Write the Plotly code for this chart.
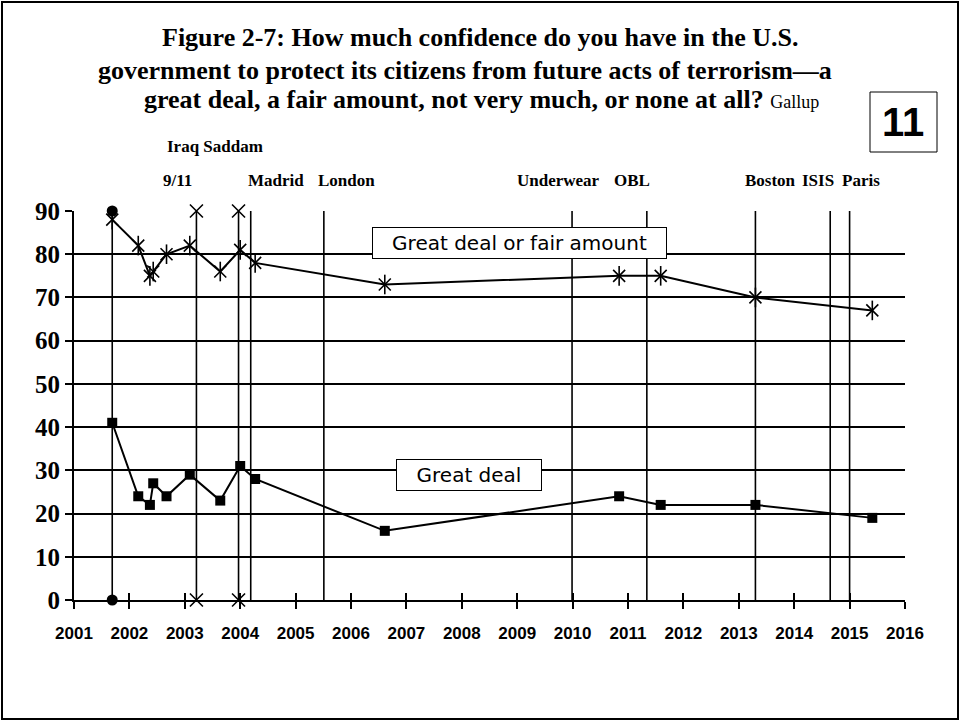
import plotly.graph_objects as go

# Survey dates (decimal years) and percentages
dates = [2001.69, 2002.16, 2002.37, 2002.43, 2002.67, 2003.09, 2003.64,
         2004.00, 2004.27, 2006.61, 2010.84, 2011.59, 2013.30, 2015.41]
great_or_fair = [88, 82, 75, 76, 80, 82, 76, 81, 78, 73, 75, 75, 70, 67]
great_deal = [41, 24, 22, 27, 24, 29, 23, 31, 28, 16, 24, 22, 22, 19]

# Event reference lines
event_names = ["9/11", "Iraq", "Saddam", "Madrid", "London", "Underwear",
               "OBL", "Boston", "ISIS", "Paris"]
event_dates = [2001.69, 2003.21, 2003.97, 2004.19, 2005.51, 2009.99,
               2011.34, 2013.30, 2014.65, 2015.00]
event_markers = ["circle", "x-thin-open", "x-thin-open", None, None, None,
                 None, None, None, None]

years = list(range(2001, 2017))
y_ticks = list(range(0, 100, 10))

# plot-area pixel box
W, H = 960, 721
L, R, T, B = 74, 905, 211, 600


def px(x):
    return (x - L) / (R - L)


def py(y):
    return (B - y) / (B - T)


fig = go.Figure()

for name, d, m in zip(event_names, event_dates, event_markers):
    tr = dict(x=[d, d], y=[0, 90], mode="lines", name=name,
              line=dict(color="black", width=1.6), hoverinfo="skip",
              showlegend=False, cliponaxis=False)
    if m is not None:
        tr["mode"] = "lines+markers"
        if m == "circle":
            tr["marker"] = dict(symbol="circle", size=11, color="black")
        else:
            tr["marker"] = dict(symbol=m, size=13, color="black",
                                line=dict(color="black", width=1.6))
    fig.add_trace(go.Scatter(**tr))

# Great deal or fair amount: star marker built from an X plus a vertical bar
fig.add_trace(go.Scatter(
    x=dates, y=great_or_fair, mode="lines+markers", name="Great deal or fair amount",
    line=dict(color="black", width=2),
    marker=dict(symbol="x-thin-open", size=12, color="black",
                line=dict(color="black", width=1.6)),
    showlegend=False, cliponaxis=False))
fig.add_trace(go.Scatter(
    x=dates, y=great_or_fair, mode="markers", name="Great deal or fair amount",
    marker=dict(symbol="line-ns-open", size=14, color="black",
                line=dict(color="black", width=1.6)),
    showlegend=False, cliponaxis=False))

fig.add_trace(go.Scatter(
    x=dates, y=great_deal, mode="lines+markers", name="Great deal",
    line=dict(color="black", width=2),
    marker=dict(symbol="square", size=10, color="black"),
    showlegend=False, cliponaxis=False))

# invisible companion trace so the inner-tick axis is drawn
fig.add_trace(go.Scatter(x=[years[0], years[-1]], y=[0, 0], xaxis="x2",
                         mode="markers", marker=dict(opacity=0),
                         hoverinfo="skip", showlegend=False))

serif = "Liberation Serif, Times New Roman, serif"
sans = "Liberation Sans, Arial, sans-serif"

fig.update_layout(
    width=W, height=H,
    margin=dict(l=L, r=W - R, t=T, b=H - B),
    paper_bgcolor="white", plot_bgcolor="white",
    xaxis=dict(range=[years[0], years[-1]], tickmode="array",
               tickvals=years, ticktext=[str(y) for y in years],
               ticks="outside", ticklen=7, tickwidth=2, tickcolor="black",
               showline=True, linecolor="black", linewidth=2,
               showgrid=False, zeroline=False, ticklabelstandoff=10,
               tickfont=dict(family=sans, size=17, color="black",
                             weight="bold")),
    xaxis2=dict(range=[years[0], years[-1]], overlaying="x", anchor="y",
                side="bottom", tickmode="array", tickvals=years,
                ticks="inside", ticklen=7, tickwidth=2, tickcolor="black",
                showticklabels=False, showgrid=False, zeroline=False,
                showline=False),
    yaxis=dict(range=[0, 90], tickmode="array", tickvals=y_ticks,
               ticks="outside", ticklen=7, tickwidth=2, tickcolor="black",
               showline=True, linecolor="black", linewidth=2,
               showgrid=True, gridcolor="black", gridwidth=2,
               zeroline=False,
               tickfont=dict(family=serif, size=25, color="black",
                             weight="bold")),
)

annotations = []
title_lines = [
    ("<b>Figure 2-7: How much confidence do you have in the U.S.</b>", 480, 38),
    ("<b>government to protect its citizens from future acts of terrorism—a</b>", 465, 70),
    ("<b>great deal, a fair amount, not very much, or none at all?</b> "
     "<span style='font-size:18px'>Gallup</span>", 481, 100),
]
for txt, x, y in title_lines:
    annotations.append(dict(text=txt, x=px(x), y=py(y), xref="paper",
                            yref="paper", showarrow=False, xanchor="center",
                            yanchor="middle",
                            font=dict(family=serif, size=26, color="black")))

event_labels = [
    ("Iraq Saddam", 215, 146), ("9/11", 177, 181), ("Madrid", 276, 181),
    ("London", 346, 181), ("Underwear", 558, 181), ("OBL", 632, 181),
    ("Boston", 770, 181), ("ISIS", 818, 181), ("Paris", 861, 181),
]
for txt, x, y in event_labels:
    annotations.append(dict(text="<b>" + txt + "</b>", x=px(x), y=py(y),
                            xref="paper", yref="paper", showarrow=False,
                            xanchor="center", yanchor="middle",
                            font=dict(family=serif, size=17, color="black")))

box_font = dict(family="DejaVu Sans, Verdana, sans-serif", size=20,
                color="black")
annotations.append(dict(text="Great deal or fair amount", x=px(519), y=py(243),
                        xref="paper", yref="paper", showarrow=False,
                        xanchor="center", yanchor="middle", width=289,
                        height=26, bgcolor="white", bordercolor="black",
                        borderwidth=1, borderpad=2, font=box_font))
annotations.append(dict(text="Great deal", x=px(469), y=py(475),
                        xref="paper", yref="paper", showarrow=False,
                        xanchor="center", yanchor="middle", width=140,
                        height=26, bgcolor="white", bordercolor="black",
                        borderwidth=1, borderpad=2, font=box_font))

annotations.append(dict(text="<b>11</b>", x=px(903), y=py(122), xref="paper",
                        yref="paper", showarrow=False, xanchor="center",
                        yanchor="middle",
                        font=dict(family=sans, size=40, color="black")))

fig.update_layout(annotations=annotations)

shapes = [
    dict(type="rect", xref="paper", yref="paper", x0=px(870), x1=px(937),
         y0=py(152), y1=py(92), line=dict(color="black", width=1),
         fillcolor="white", layer="below"),
    dict(type="rect", xref="paper", yref="paper", x0=px(2), x1=px(958),
         y0=py(719), y1=py(2), line=dict(color="black", width=2),
         layer="below"),
]
fig.update_layout(shapes=shapes)

fig.write_html("out.html")
